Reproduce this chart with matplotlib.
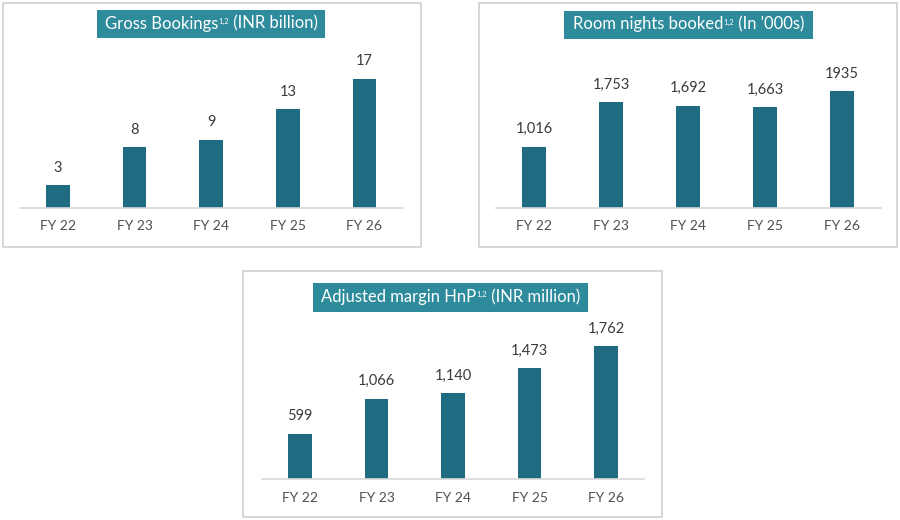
import matplotlib.pyplot as plt
from matplotlib.patches import Rectangle

plt.rcParams['font.family'] = ['Lato', 'DejaVu Sans']

years = ['FY 22', 'FY 23', 'FY 24', 'FY 25', 'FY 26']
gross_bookings = [3, 8, 9, 13, 17]
gross_labels = ['3', '8', '9', '13', '17']
room_nights = [1016, 1753, 1692, 1663, 1935]
room_labels = ['1,016', '1,753', '1,692', '1,663', '1935']
adj_margin = [599, 1066, 1140, 1473, 1762]
margin_labels = ['599', '1,066', '1,140', '1,473', '1,762']

BAR = '#1F6B82'
HEAD = '#2E8B9B'
W, H = 900, 520

fig = plt.figure(figsize=(9, 5.2), dpi=100)
renderer = fig.canvas.get_renderer()


def px_rect(x0, y0, x1, y1):
    # pixel box (top-left origin) -> figure fraction [l, b, w, h]
    return [x0 / W, (H - y1) / H, (x1 - x0) / W, (y1 - y0) / H]


def header(cx, cy, main, tail):
    # main text + tiny "1,2" superscript + tail, centred at (cx, cy) pixels
    kw = dict(color='white', transform=None, va='baseline', ha='left')
    t1 = fig.text(0, 0, main, fontsize=12, **kw)
    t2 = fig.text(0, 0, '1,2', fontsize=5.5, **kw)
    t3 = fig.text(0, 0, ' ' + tail, fontsize=12, **kw)
    w1 = t1.get_window_extent(renderer).width
    w2 = t2.get_window_extent(renderer).width
    w3 = t3.get_window_extent(renderer).width
    x = cx - (w1 + w2 + w3) / 2
    base = (H - cy) - 4.5
    t1.set_position((x, base))
    t2.set_position((x + w1 + 0.5, base + 5))
    t3.set_position((x + w1 + w2 + 0.5, base))


def panel(frame, head, main, tail, plot_box, ytop, values, labels):
    l, b, w, h = px_rect(*frame)
    fig.patches.append(Rectangle((l, b), w, h, transform=fig.transFigure,
                                 facecolor='none', edgecolor='#CFCFCF', lw=1.2))
    l, b, w, h = px_rect(*head)
    fig.patches.append(Rectangle((l, b), w, h, transform=fig.transFigure,
                                 facecolor=HEAD, edgecolor='none'))
    header((head[0] + head[2]) / 2, (head[1] + head[3]) / 2, main, tail)

    ax = fig.add_axes(px_rect(*plot_box))
    ax.bar(range(len(years)), values, width=0.31, color=BAR)
    for i, (v, t) in enumerate(zip(values, labels)):
        ax.annotate(t, (i, v), xytext=(0, 7.5), textcoords='offset points',
                    ha='center', va='bottom', fontsize=10.5, color='#3A3A3A')
    ax.set_xlim(-0.5, len(years) - 0.5)
    ax.set_ylim(0, ytop)
    ax.set_xticks(range(len(years)))
    ax.set_xticklabels(years, fontsize=10, color='#505050')
    ax.tick_params(axis='x', length=0, pad=9)
    ax.set_yticks([])
    for s in ['top', 'left', 'right']:
        ax.spines[s].set_visible(False)
    ax.spines['bottom'].set_color('#D9D9D9')
    ax.spines['bottom'].set_linewidth(1.2)
    ax.patch.set_alpha(0)
    return ax


panel((3, 3, 421, 247), (97, 10, 325, 38), 'Gross Bookings', '(INR billion)',
      (19.7, 48, 402.7, 208), 160 / 7.6, gross_bookings, gross_labels)
panel((479, 3, 897, 247), (564, 11, 813, 39), 'Room nights booked', "(In '000s)",
      (495.5, 48, 880.5, 208), 160 / (117 / 1935), room_nights, room_labels)
panel((243, 271, 662, 517), (313, 283, 588, 312), 'Adjusted margin HnP', '(INR million)',
      (261.8, 319, 644.3, 479), 160 / (133 / 1762), adj_margin, margin_labels)

fig.savefig('out.png', dpi=100, facecolor='white')
